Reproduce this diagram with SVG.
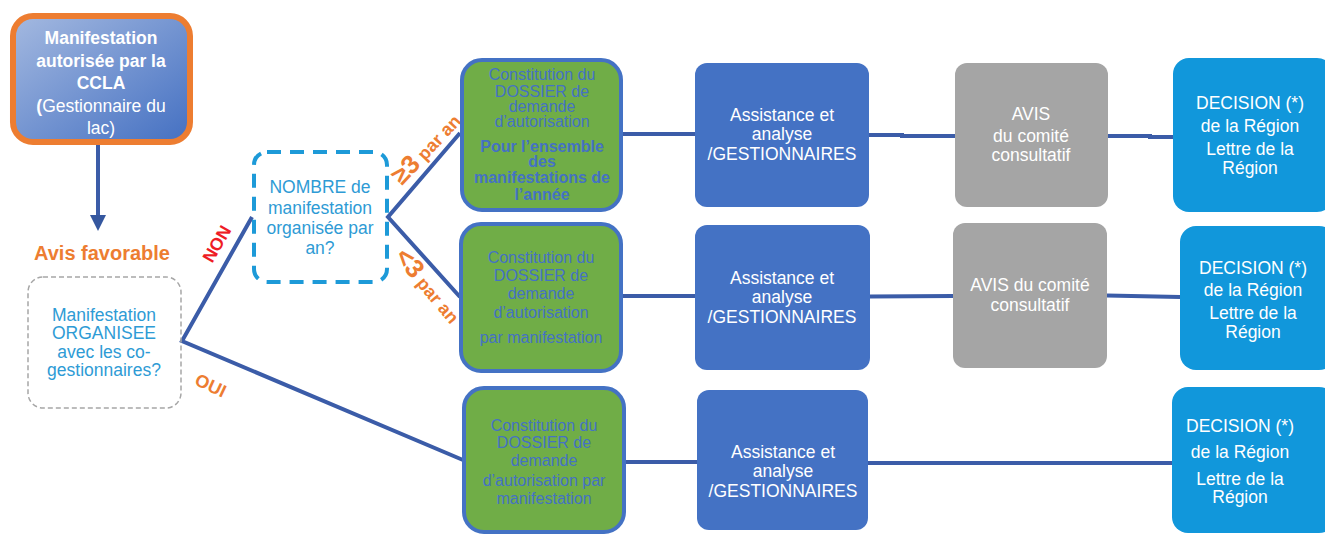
<svg xmlns="http://www.w3.org/2000/svg" width="1325" height="534" viewBox="0 0 1325 534">
<defs>
<linearGradient id="g1" x1="0" y1="0" x2="1" y2="1">
<stop offset="0" stop-color="#a4b9e0"/>
<stop offset="1" stop-color="#4470c2"/>
</linearGradient>
<marker id="arr" markerWidth="4" markerHeight="4" refX="2" refY="2" orient="auto" markerUnits="strokeWidth">
<path d="M0,0 L4,2 L0,4 z" fill="#35579f"/>
</marker>
</defs>
<style>
text{font-family:"Liberation Sans",Arial,sans-serif;text-anchor:middle}
.w{fill:#ffffff;font-size:17.5px}
.gt{fill:#4472c4;font-size:16px}
.cy{fill:#2e9bd5;font-size:17.5px}
.blue{fill:#4472c4}
.green{fill:#70ad47;stroke:#4472c4;stroke-width:4}
.gray{fill:#a5a5a5}
.dec{fill:#1197db}
.ln{stroke:#3b5ca8;stroke-width:4;fill:none}
.lab{font-weight:bold}
</style>
<rect width="1325" height="534" fill="#ffffff"/>

<g id="connectors">
<line class="ln" x1="98" y1="143" x2="98" y2="223" marker-end="url(#arr)"/>
<polyline class="ln" points="252,217 182,341 463,460"/>
<polyline class="ln" points="460,133 388,217 460,297"/>
<line class="ln" x1="622" y1="134" x2="695" y2="134"/>
<polyline class="ln" points="869,135 902,135 902,136 955,136"/>
<polyline class="ln" points="1108,136 1150,136 1150,137 1173,137"/>
<line class="ln" x1="622" y1="296" x2="695" y2="296"/>
<line class="ln" x1="870" y1="296.5" x2="953" y2="296"/>
<line class="ln" x1="1107" y1="295.5" x2="1180" y2="297"/>
<line class="ln" x1="625" y1="462" x2="697" y2="462"/>
<line class="ln" x1="868" y1="463" x2="1172" y2="463"/>
</g>

<g id="labels">
<text class="lab" font-size="20" fill="#ed7d31" x="102" y="260">Avis favorable</text>
<text class="lab" font-size="17.5" fill="#ee1c25" transform="translate(222,247) rotate(-60)">NON</text>
<text class="lab" font-size="18" fill="#ed7d31" transform="translate(208,391) rotate(25)">OUI</text>
<text class="lab" fill="#ed7d31" transform="translate(432,154) rotate(-47)"><tspan font-size="26">≥3</tspan><tspan font-size="18"> par an</tspan></text>
<text class="lab" fill="#ed7d31" transform="translate(422,291) rotate(50)"><tspan font-size="26">&lt;3</tspan><tspan font-size="18"> par an</tspan></text>
</g>

<g id="n-ccla">
<rect x="13" y="16" width="177" height="126" rx="20" fill="url(#g1)" stroke="#ed7d31" stroke-width="6"/>
<text class="w" font-weight="bold" x="101" y="44">Manifestation</text>
<text class="w" font-weight="bold" x="101" y="67">autorisée par la</text>
<text class="w" font-weight="bold" x="101" y="89">CCLA</text>
<text class="w" x="101" y="112"><tspan font-weight="bold">(</tspan>Gestionnaire du</text>
<text class="w" x="101" y="134">lac)</text>
</g>

<g id="n-organisee">
<rect x="28" y="277" width="153" height="131" rx="15" fill="none" stroke="#a6a6a6" stroke-width="1.5" stroke-dasharray="5 3"/>
<text class="cy" x="104" y="321">Manifestation</text>
<text class="cy" x="104" y="339">ORGANISEE</text>
<text class="cy" x="104" y="358">avec les co-</text>
<text class="cy" x="104" y="376">gestionnaires?</text>
</g>

<g id="n-nombre">
<rect x="254" y="152" width="133" height="130" rx="13" fill="none" stroke="#1d9ad8" stroke-width="4" stroke-dasharray="14 9"/>
<text class="cy" fill="#3896c8" x="320" y="193">NOMBRE de</text>
<text class="cy" x="320" y="214">manifestation</text>
<text class="cy" x="320" y="234">organisée par</text>
<text class="cy" x="320" y="254">an?</text>
</g>

<g id="n-dossier1">
<rect class="green" x="462" y="60" width="159" height="150" rx="20"/>
<text class="gt" font-size="16" x="542" y="80">Constitution du</text>
<text class="gt" font-size="16" x="542" y="97">DOSSIER de</text>
<text class="gt" font-size="16" x="542" y="112">demande</text>
<text class="gt" font-size="16" x="542" y="127">d’autorisation</text>
<text class="gt" font-size="15.5" font-weight="bold" x="542" y="152">Pour l’ensemble</text>
<text class="gt" font-size="15.5" font-weight="bold" x="542" y="167">des</text>
<text class="gt" font-size="15.5" font-weight="bold" x="542" y="183">manifestations de</text>
<text class="gt" font-size="15.5" font-weight="bold" x="542" y="200">l’année</text>
</g>

<g id="n-dossier2">
<rect class="green" x="461" y="224" width="160" height="147" rx="20"/>
<text class="gt" font-size="17.5" x="541" y="263">Constitution du</text>
<text class="gt" font-size="17.5" x="541" y="281">DOSSIER de</text>
<text class="gt" font-size="17.5" x="541" y="299">demande</text>
<text class="gt" font-size="17.5" x="541" y="318">d’autorisation</text>
<text class="gt" font-size="17.5" x="541" y="343">par manifestation</text>
</g>

<g id="n-dossier3">
<rect class="green" x="464" y="388" width="160" height="144" rx="20"/>
<text class="gt" font-size="17.5" x="544" y="431">Constitution du</text>
<text class="gt" font-size="17.5" x="544" y="448">DOSSIER de</text>
<text class="gt" font-size="17.5" x="544" y="466">demande</text>
<text class="gt" font-size="17.5" x="544" y="486">d’autorisation par</text>
<text class="gt" font-size="17.5" x="544" y="504">manifestation</text>
</g>

<g id="n-assist1">
<rect class="blue" x="695" y="63" width="174" height="144" rx="12"/>
<text class="w" x="782" y="121">Assistance et</text>
<text class="w" x="782" y="140">analyse</text>
<text class="w" x="782" y="160">/GESTIONNAIRES</text>
</g>
<g id="n-assist2">
<rect class="blue" x="695" y="225" width="175" height="145" rx="12"/>
<text class="w" x="782" y="284">Assistance et</text>
<text class="w" x="782" y="303">analyse</text>
<text class="w" x="782" y="323">/GESTIONNAIRES</text>
</g>
<g id="n-assist3">
<rect class="blue" x="697" y="390" width="171" height="140" rx="12"/>
<text class="w" x="783" y="458">Assistance et</text>
<text class="w" x="783" y="477">analyse</text>
<text class="w" x="783" y="497">/GESTIONNAIRES</text>
</g>

<g id="n-avis1">
<rect class="gray" x="955" y="63" width="153" height="144" rx="12"/>
<text class="w" x="1031" y="120">AVIS</text>
<text class="w" font-size="16.5" x="1031" y="142">du comité</text>
<text class="w" font-size="16.5" x="1031" y="161">consultatif</text>
</g>
<g id="n-avis2">
<rect class="gray" x="953" y="223" width="154" height="145" rx="12"/>
<text class="w" x="1030" y="291">AVIS du comité</text>
<text class="w" x="1030" y="311">consultatif</text>
</g>

<g id="n-decision1">
<rect class="dec" x="1173" y="58" width="160" height="154" rx="16"/>
<text class="w" x="1250" y="109">DECISION (*)</text>
<text class="w" x="1250" y="132">de la Région</text>
<text class="w" x="1250" y="155">Lettre de la</text>
<text class="w" x="1250" y="174">Région</text>
</g>
<g id="n-decision2">
<rect class="dec" x="1180" y="226" width="155" height="144" rx="16"/>
<text class="w" x="1253" y="274">DECISION (*)</text>
<text class="w" x="1253" y="296">de la Région</text>
<text class="w" x="1253" y="319">Lettre de la</text>
<text class="w" x="1253" y="338">Région</text>
</g>
<g id="n-decision3">
<rect class="dec" x="1172" y="387" width="163" height="146" rx="16"/>
<text class="w" x="1240" y="432">DECISION (*)</text>
<text class="w" x="1240" y="458">de la Région</text>
<text class="w" x="1240" y="485">Lettre de la</text>
<text class="w" x="1240" y="503">Région</text>
</g>
</svg>
